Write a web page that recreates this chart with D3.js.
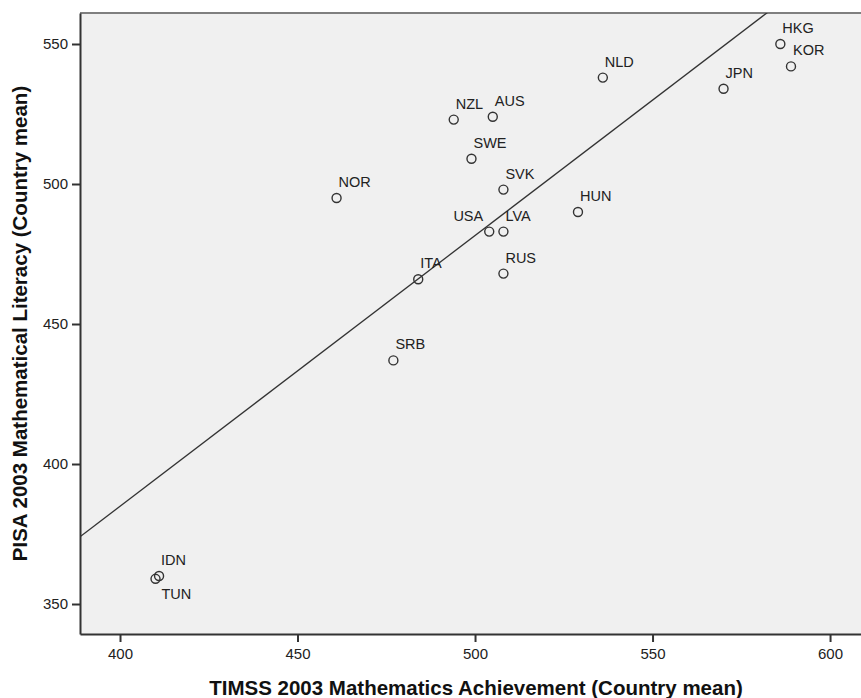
<!DOCTYPE html>
<html>
<head>
<meta charset="utf-8">
<script src="https://cdn.jsdelivr.net/npm/d3@7"></script>
<style>
  body { margin: 0; background: #fff; }
  svg { display: block; font-family: "Liberation Sans", Arial, sans-serif; }
</style>
</head>
<body>
<svg id="chart" width="861" height="698"></svg>
<script>
(function () {
    'use strict';

    // country codes, TIMSS 2003 maths mean, PISA 2003 maths mean
    var countries = ["HKG", "KOR", "JPN", "NLD", "AUS", "NZL", "SWE", "NOR", "SVK",
        "HUN", "LVA", "USA", "RUS", "ITA", "SRB", "IDN", "TUN"];
    var timss = [586, 589, 570, 536, 505, 494, 499, 461, 508,
        529, 508, 504, 508, 484, 477, 411, 410];
    var pisa = [550, 542, 534, 538, 524, 523, 509, 495, 498,
        490, 483, 483, 468, 466, 437, 360, 359];

    // fit line
    var fitIntercept = -1.9,
        fitSlope = 0.967;

    var xTicks = [400, 450, 500, 550, 600];
    var yTicks = [350, 400, 450, 500, 550];

    var svg = d3.select("#chart"),
        left = 80,
        top = 13,
        right = 862,
        bottom = 634;

    var x = d3.scaleLinear().domain([388.73, 609.0]).range([left, right]);
    var y = d3.scaleLinear().domain([339.29, 561.07]).range([bottom, top]);

    var points = countries.map(function (c, i) {
        return { code: c, tx: timss[i], py: pisa[i] };
    });

    // plot background
    svg.append("rect")
        .attr("x", left)
        .attr("y", top)
        .attr("width", right - left)
        .attr("height", bottom - top)
        .style("fill", "#f0f0f0");

    svg.append("line")
        .attr("x1", left).attr("x2", right)
        .attr("y1", top).attr("y2", top)
        .style("stroke", "#7f7f7f")
        .style("stroke-width", 2);

    var clip = svg.append("clipPath").attr("id", "plotclip")
        .append("rect")
        .attr("x", left).attr("y", top)
        .attr("width", right - left).attr("height", bottom - top);

    // regression line
    var x0 = x.domain()[0], x1 = x.domain()[1];
    svg.append("line")
        .attr("clip-path", "url(#plotclip)")
        .attr("x1", x(x0))
        .attr("y1", y(fitIntercept + fitSlope * x0))
        .attr("x2", x(x1))
        .attr("y2", y(fitIntercept + fitSlope * x1))
        .style("stroke", "#333")
        .style("stroke-width", 1.3);

    // axes
    var xAxis = svg.append("g")
        .attr("transform", "translate(0," + bottom + ")")
        .call(d3.axisBottom(x).tickValues(xTicks).tickSize(8).tickPadding(6).tickSizeOuter(0));

    var yAxis = svg.append("g")
        .attr("transform", "translate(" + left + ",0)")
        .call(d3.axisLeft(y).tickValues(yTicks).tickSize(8).tickPadding(4).tickSizeOuter(0));

    [xAxis, yAxis].forEach(function (a) {
        a.select(".domain").style("stroke", "#333").style("stroke-width", 2);
        a.selectAll(".tick line").style("stroke", "#333").style("stroke-width", 2);
        a.selectAll(".tick text")
            .style("font-size", "15px")
            .style("fill", "#222")
            .style("font-family", "'Liberation Sans', Arial, sans-serif");
    });

    // points
    svg.append("g")
        .selectAll("circle")
        .data(points)
        .enter()
        .append("circle")
        .attr("cx", function (d) { return x(d.tx); })
        .attr("cy", function (d) { return y(d.py); })
        .attr("r", 4.5)
        .style("fill", "none")
        .style("stroke", "#333")
        .style("stroke-width", 1.4);

    // labels: most sit above right, a couple are moved
    var labelPlace = { USA: "left", TUN: "below" };

    svg.append("g")
        .selectAll("text")
        .data(points)
        .enter()
        .append("text")
        .attr("x", function (d) {
            var p = labelPlace[d.code];
            return x(d.tx) + (p === "left" ? -6 : p === "below" ? 6 : 2);
        })
        .attr("y", function (d) {
            return y(d.py) + (labelPlace[d.code] === "below" ? 20 : -11);
        })
        .attr("text-anchor", function (d) {
            return labelPlace[d.code] === "left" ? "end" : "start";
        })
        .style("font-size", "14.5px")
        .style("fill", "#222")
        .text(function (d) { return d.code; });

    // axis titles
    svg.append("text")
        .attr("x", 476)
        .attr("y", 695)
        .attr("text-anchor", "middle")
        .style("font-size", "20.5px")
        .style("font-weight", "bold")
        .style("fill", "#111")
        .text("TIMSS 2003 Mathematics Achievement (Country mean)");

    svg.append("text")
        .attr("transform", "translate(27," + (top + bottom) / 2 + ") rotate(-90)")
        .attr("text-anchor", "middle")
        .style("font-size", "20.5px")
        .style("font-weight", "bold")
        .style("fill", "#111")
        .text("PISA 2003 Mathematical Literacy (Country mean)");
})();
</script>
</body>
</html>
